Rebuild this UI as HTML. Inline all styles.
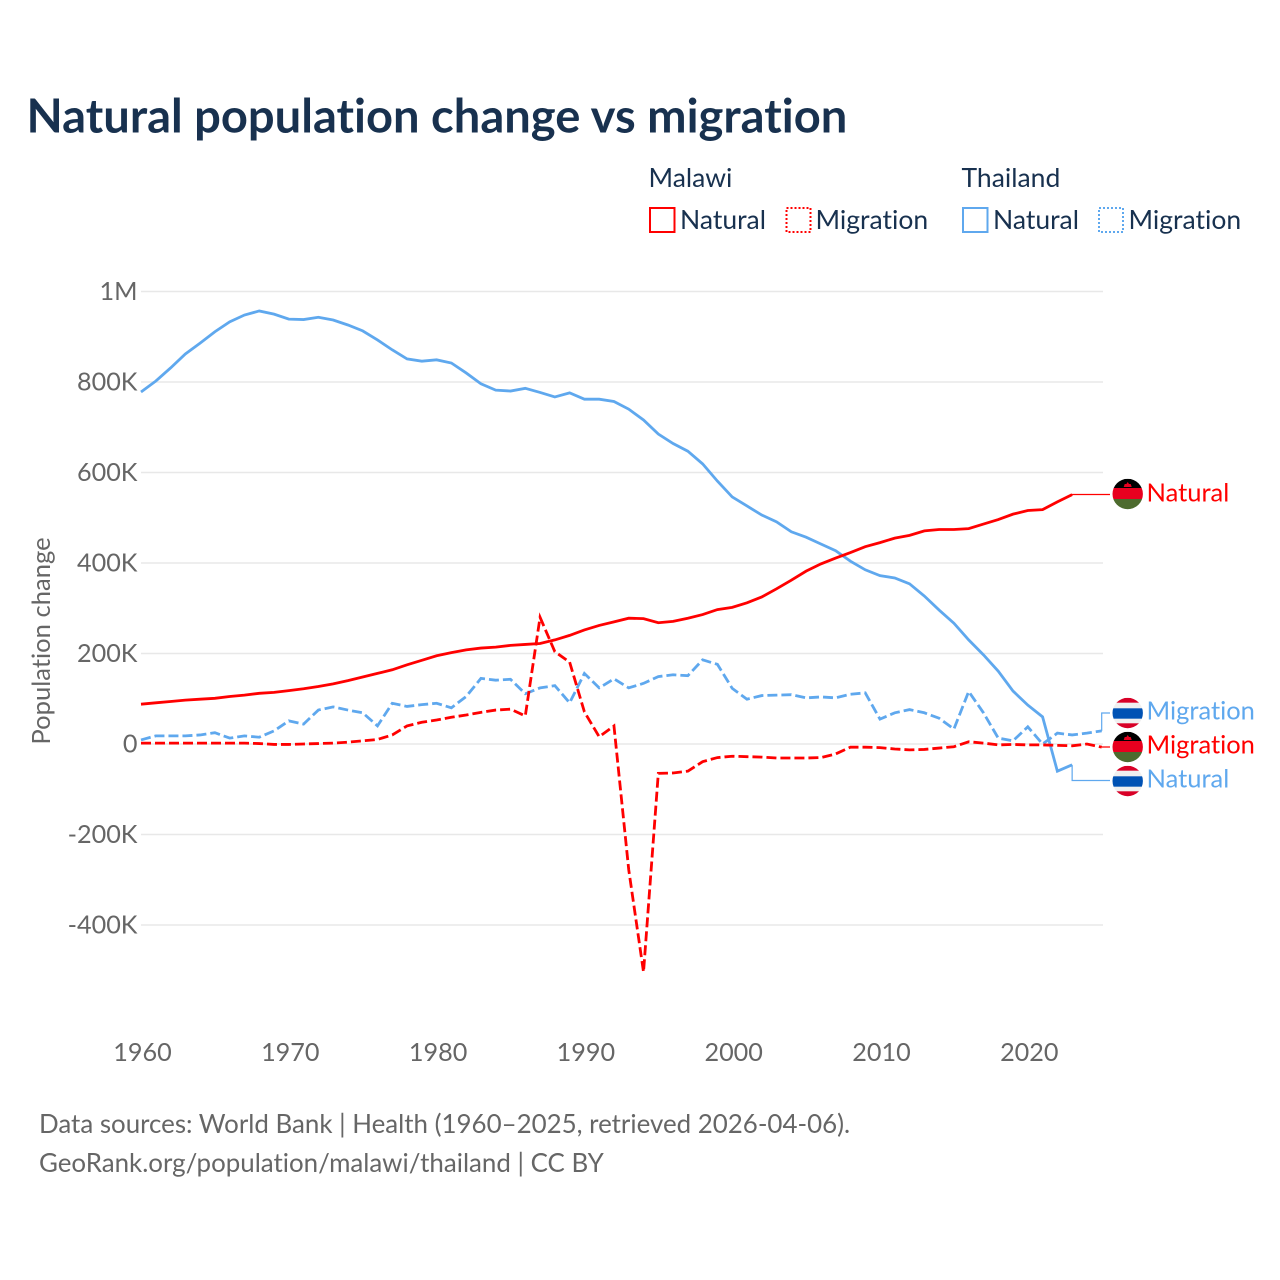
<!DOCTYPE html>
<html>
<head>
<meta charset="utf-8">
<title>Natural population change vs migration</title>
<style>
html,body{margin:0;padding:0;background:#fff;}
svg{display:block;font-family:"Lato","Carlito","Liberation Sans",sans-serif;font-variant-ligatures:none;font-feature-settings:"liga" 0,"clig" 0;}
</style>
</head>
<body>
<svg id="chart" xmlns="http://www.w3.org/2000/svg" width="1280" height="1280" viewBox="0 0 1280 1280">
  <rect x="0" y="0" width="1280" height="1280" fill="#fff"/>
  <text x="26.500" y="132.500" font-size="47.100" font-weight="700" fill="#18314f">Natural population change vs migration</text>

  <g font-size="26.500" fill="#18314f">
    <text x="648.500" y="187">Malawi</text>
    <text x="961.500" y="187">Thailand</text>
    <rect x="650" y="208" width="24.500" height="24" fill="none" stroke="#ff0000" stroke-width="2"/>
    <text x="680" y="229">Natural</text>
    <rect x="786.500" y="208" width="24" height="24" fill="none" stroke="#ff0000" stroke-width="2" stroke-dasharray="2 2"/>
    <text x="815.500" y="229">Migration</text>
    <rect x="963" y="208" width="24.500" height="24" fill="none" stroke="#5fa8ee" stroke-width="2"/>
    <text x="993" y="229">Natural</text>
    <rect x="1099" y="208" width="24" height="24" fill="none" stroke="#5fa8ee" stroke-width="2" stroke-dasharray="2 2"/>
    <text x="1128.500" y="229">Migration</text>
  </g>

  <g id="grid"></g>
  <g id="yticks" font-size="25.200" fill="#666"></g>
  <g id="xticks" font-size="25.200" fill="#666"></g>
  <text transform="translate(50,641) rotate(-90)" text-anchor="middle" font-size="25.600" fill="#666">Population change</text>
  <g id="series"></g>
  <g id="labels" font-size="25.500"></g>

  <g font-size="25.900" fill="#666">
    <text x="39" y="1133">Data sources: World Bank | Health (1960–2025, retrieved 2026-04-06).</text>
    <text x="39" y="1172">GeoRank.org/population/malawi/thailand | CC BY</text>
  </g>
</svg>
<script>
const yTickValues = [1000, 800, 600, 400, 200, 0, -200, -400];
const yTickLabels = ["1M", "800K", "600K", "400K", "200K", "0", "-200K", "-400K"];
const xTickYears = [1960, 1970, 1980, 1990, 2000, 2010, 2020];
const startYear = 1960;

const malawiNatural = [88,91,94,97,99,101,105,108,112,114,118,122,127,133,140,148,156,164,175,185,195,202,208,212,214,218,220,222,230,240,252,262,270,278,277,268,271,278,286,297,302,312,325,343,362,382,398,411,423,436,445,455,461,471,474,474,476,486,496,508,516,518,535,551];
const malawiMigration = [2,2,2,2,2,2,2,2,1,-1,-1,0,1,2,4,7,10,20,40,48,53,59,64,70,75,77,62,280,204,181,71,16,40,-278,-504,-65,-64,-60,-39,-30,-27,-28,-29,-31,-31,-31,-30,-22,-7,-7,-8,-11,-13,-12,-9,-6,5,2,-2,-1,-2,-2,-3,-4,0,-7];
const thailandNatural = [778,802,831,862,886,911,933,948,957,950,939,938,943,937,926,913,893,871,851,846,849,842,820,796,782,780,786,777,767,776,762,762,757,740,716,685,664,647,619,581,546,526,506,491,469,457,442,427,404,385,372,367,354,327,296,267,230,197,161,117,86,60,-60,-46];
const thailandMigration = [9,18,18,18,20,25,13,18,15,29,51,44,75,82,75,69,40,90,83,87,90,80,105,145,141,143,111,124,129,91,156,124,144,124,134,149,153,151,186,176,123,99,107,108,109,102,104,102,110,113,55,69,76,69,57,33,116,69,13,7,38,0,24,20,24,29];

const RED = "#ff0000";
const BLUE = "#5fa8ee";
const SVGNS = "http://www.w3.org/2000/svg";

function xScale(year) { return 141 + (year - 1960) * 14.78; }
function yScale(v) { return 744 - v * 0.4525; }
function make(tag, attrs, parent) {
  const el = document.createElementNS(SVGNS, tag);
  for (const k in attrs) el.setAttribute(k, attrs[k]);
  parent.appendChild(el);
  return el;
}

const grid = document.getElementById("grid");
const yticks = document.getElementById("yticks");
yTickValues.forEach(function (v, i) {
  const line = make("line", { x1: 141, x2: 1103, y1: yScale(v), y2: yScale(v), stroke: "#e8e8e8", "stroke-width": 1.5 }, grid);
  
  
  const t = make("text", { x: 137.5, y: yScale(v) + 8.5, "text-anchor": "end" }, yticks);
  
  
  t.textContent = yTickLabels[i];
});

const xticks = document.getElementById("xticks");
xTickYears.forEach(function (yr) {
  const t = make("text", { x: xScale(yr) + 1.5, y: 1061, "text-anchor": "middle" }, xticks);
  
  
  t.textContent = yr;
});

const seriesGroup = document.getElementById("series");
function drawSeries(values, color, dashed, name) {
  const pts = values.map(function (v, i) { return xScale(startYear + i).toFixed(2) + "," + yScale(v).toFixed(2); });
  const attrs = { points: pts.join(" "), fill: "none", stroke: color, "stroke-width": 2.8, "stroke-linejoin": "miter" };
  if (dashed) attrs["stroke-dasharray"] = "10 4";
  const line = make("polyline", attrs, seriesGroup);
  
  
}
drawSeries(thailandNatural, BLUE, false, 'thailand-natural-line');
drawSeries(thailandMigration, BLUE, true, 'thailand-migration-line');
drawSeries(malawiNatural, RED, false, 'malawi-natural-line');
drawSeries(malawiMigration, RED, true, 'malawi-migration-line');

const labels = document.getElementById("labels");
function connector(values, labelY, color, name) {
  const lastX = xScale(startYear + values.length - 1);
  const lastY = yScale(values[values.length - 1]);
  const c = make("polyline", { points: lastX + "," + lastY + " " + lastX + "," + labelY + " 1110," + labelY, fill: "none", stroke: color, "stroke-width": 1.2 }, labels);
  
  
}
function flag(cy, bands, name) {
  const id = "clip" + cy;
  const cp = make("clipPath", { id: id }, labels);
  make("circle", { cx: 1127.700, cy: cy, r: 15.2 }, cp);
  const g = make("g", { "clip-path": "url(#" + id + ")" }, labels);
  
  
  bands.forEach(function (b) {
    make("rect", { x: 1111, y: cy - 15.2 + b[0], width: 33, height: b[1], fill: b[2] }, g);
  });
}
const malawiBands = [[0,9.2,"#000000"],[9.2,11,"#e8001f"],[20.2,10.4,"#4d6b2e"]];
const thaiBands = [[0,5,"#d80027"],[5,5.5,"#f0f0f0"],[10.5,10.5,"#0052b4"],[21,4.5,"#f0f0f0"],[25.5,5.5,"#d80027"]];
function sun(cy) {
  const s = make("polygon", { points: [1123.7, cy - 7, 1124.7, cy - 10, 1126.4, cy - 10, 1127.7, cy - 12, 1129, cy - 10, 1130.7, cy - 10, 1131.7, cy - 7].join(" "), fill: "#e8001f" }, labels);
  
  
}
function endLabel(y, text, color, name) {
  const t = make("text", { x: 1146.5, y: y + 8.5, fill: color }, labels);
  
  
  t.textContent = text;
}

connector(malawiNatural, 494.500, RED, 'malawi-natural-connector');
connector(thailandMigration, 713, BLUE, 'thailand-migration-connector');
connector(malawiMigration, 747, RED, 'malawi-migration-connector');
connector(thailandNatural, 780.500, BLUE, 'thailand-natural-connector');

flag(494, malawiBands, 'malawi-flag-natural'); sun(494);
flag(713, thaiBands, 'thailand-flag-migration');
flag(747, malawiBands, 'malawi-flag-migration'); sun(747);
flag(781, thaiBands, 'thailand-flag-natural');

endLabel(493, "Natural", RED, 'label-malawi-natural');
endLabel(711, "Migration", BLUE, 'label-thailand-migration');
endLabel(745, "Migration", RED, 'label-malawi-migration');
endLabel(779, "Natural", BLUE, 'label-thailand-natural');
</script>
</body>
</html>
